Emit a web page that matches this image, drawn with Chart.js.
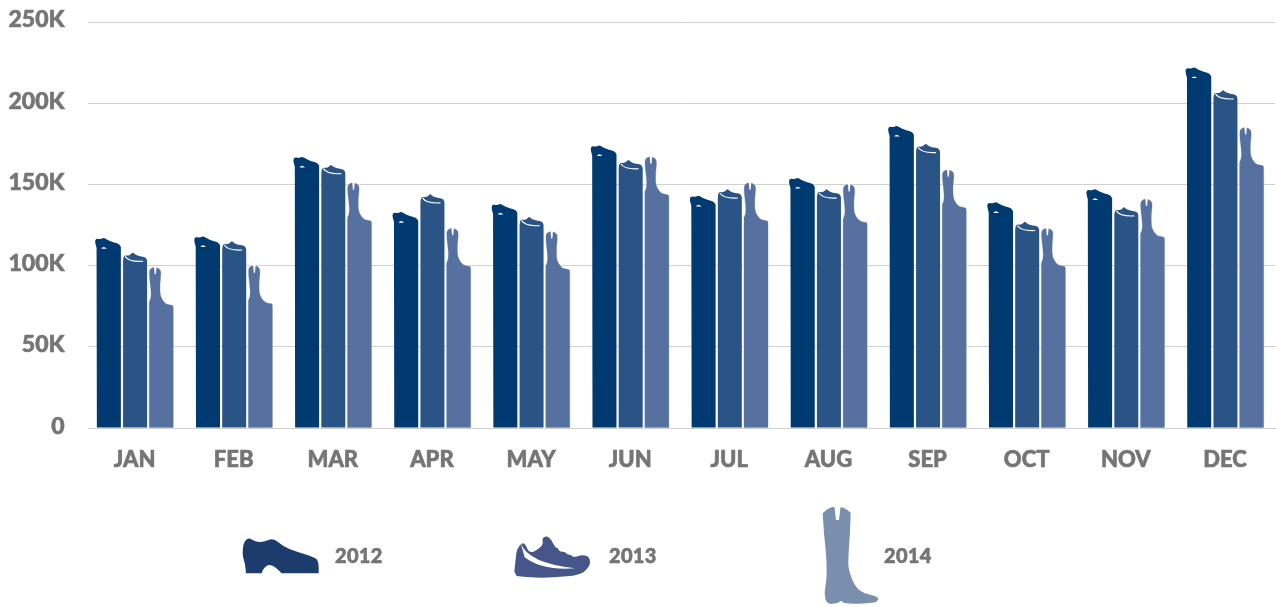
<!DOCTYPE html>
<html><head><meta charset="utf-8">
<style>html,body{margin:0;padding:0;background:#fff;overflow:hidden}#w{position:relative;width:1276px;height:607px}</style>
<script src="https://cdn.jsdelivr.net/npm/chart.js@4"></script>
</head><body><div id="w"><canvas id="c" width="1276" height="607"></canvas></div>
<script>
const months = ['JAN','FEB','MAR','APR','MAY','JUN','JUL','AUG','SEP','OCT','NOV','DEC'];
const years = ['2012','2013','2014'];
const sales2012 = [117000,118000,167000,133000,138000,174000,143000,154000,186000,139000,147000,222000];
const sales2013 = [108000,115000,162000,144000,130000,165000,147000,147000,175000,127000,136000,208000];
const sales2014 = [99000,100000,151000,123000,121000,167000,151000,150000,159000,123000,141000,185000];
const barColors = ['#003a70','#2a5485','#56719f'];
const legendColors = ['#1c3c6e','#46568a','#7a8fae'];
const inkColor = '#757575';
const FONT = '"Lato"';

// Rounded outline through midpoints; a doubled point stays a sharp corner.
function smoothOpen(ctx, pts){
  ctx.lineTo(pts[0][0], pts[0][1]);
  for(let i=1;i<pts.length-1;i++){
    ctx.quadraticCurveTo(pts[i][0],pts[i][1],(pts[i][0]+pts[i+1][0])/2,(pts[i][1]+pts[i+1][1])/2);
  }
  ctx.lineTo(pts[pts.length-1][0],pts[pts.length-1][1]);
}

// Silhouette tops, px relative to the bar's top-left corner
const tops = [
  [[-0.3,10],[-1.7,5],[-1.7,2],[0,0.5],[2,1],[4.6,1],[7,-0.4],[11.3,2.3],[16.3,4.3],[22.3,5.8],[24,9]],
  [[0,8],[0.3,4],[2,2.6],[5,3],[7.5,2],[9.7,-0.6],[12,2],[17,3.7],[22.7,4.3],[24,8]],
  [[0,35],[2,31],[1.7,22],[0.4,12],[0,4],[1.2,1.2],[5.3,-0.4],[10,1.2],[11.8,4],[11.2,12],[10.7,16],[10.7,25.7],[11.8,30],[14,34],[17,36.8],[21,37.7],[24,38],[24,42]]
];
Chart.BarElement.prototype.draw = function(ctx){
  const {x,y,base,width} = this.getProps(['x','y','base','width'], true);
  const i = barColors.indexOf(this.options.backgroundColor), l = x - width/2, s = width/24;
  ctx.save();
  ctx.fillStyle = this.options.backgroundColor;
  ctx.beginPath();
  ctx.moveTo(l, base);
  smoothOpen(ctx, tops[i].map(p => [l + p[0]*s, y + p[1]]));
  ctx.lineTo(l + width, base);
  ctx.closePath();
  if(i === 2){ ctx.strokeStyle = '#c9d1e3'; ctx.lineWidth = 1; ctx.stroke(); }
  ctx.fill();
  ctx.fillStyle = '#fff'; ctx.strokeStyle = '#fff';
  if(i === 0){
    ctx.beginPath(); ctx.moveTo(l+4.4,y+10.6); ctx.quadraticCurveTo(l+6.5,y+7.2,l+10,y+10.6); ctx.closePath(); ctx.fill();
  } else if(i === 1){
    ctx.lineWidth = 1.2; ctx.beginPath(); ctx.moveTo(l+2,y+3.7); ctx.quadraticCurveTo(l+6,y+9.5,l+20,y+8.7); ctx.stroke();
  } else {
    ctx.beginPath(); ctx.moveTo(l+4.7,y-1); ctx.lineTo(l+7.3,y-1); ctx.lineTo(l+6.6,y+7); ctx.lineTo(l+5.4,y+7); ctx.closePath(); ctx.fill();
  }
  ctx.restore();
};

const icons = [
  {ox:220, col:0, text:335, pts:[[78,220],[78,220],[75,190],[68,170],[68,145],[73,122],[88,113],[105,125],[130,127],[160,113],[190,140],[230,155],[280,170],[296,183],[296,220],[296,220],[185,220],[185,220],[165,200],[147,193],[130,205],[125,220],[125,220]]},
  {ox:220, col:1, text:609, pts:[[883,215],[888,170],[890,150],[905,128],[917,133],[925,155],[940,157],[970,135],[966,115],[980,107],[995,120],[1005,142],[1015,145],[1018,155],[1035,155],[1040,163],[1055,165],[1060,172],[1085,165],[1105,168],[1112,185],[1105,205],[1080,225],[1000,233],[930,233],[890,228]],
   swoosh:[[902,130],[925,190],[1065,205],[965,212],[914,172],[890,148]]},
  {ox:800, col:2, text:884, pts:[[68,40],[68,40],[85,25],[100,20],[130,20],[152,38],[152,38],[150,100],[145,170],[145,210],[165,260],[190,280],[230,288],[237,298],[225,310],[130,312],[126,300],[112,310],[80,313],[72,280],[80,240],[80,180],[72,100]],
   slot:[[103,18],[122,18],[117,60],[108,60]]}
];
const sx = (o,z) => o + z/3, sy = z => 500 + z/3;
const pictoLegend = {
  id:'pictoLegend',
  beforeDatasetsDraw(chart){
    const a = chart.ctx;
    a.save(); a.fillStyle='#fff'; a.fillRect(85,0,3,440); a.restore();
  },
  afterDraw(chart){
    const a = chart.ctx;
    icons.forEach((ic,k)=>{
      a.save();
      a.fillStyle = legendColors[ic.col];
      const P = ic.pts.map(p=>[sx(ic.ox,p[0]),sy(p[1])]);
      a.beginPath();
      a.moveTo(P[0][0],P[0][1]);
      smoothOpen(a,P);
      a.closePath(); a.fill();
      a.fillStyle = '#fff';
      if(ic.slot){
        a.beginPath(); ic.slot.forEach((p,i)=> i? a.lineTo(sx(ic.ox,p[0]),sy(p[1])) : a.moveTo(sx(ic.ox,p[0]),sy(p[1])));
        a.closePath(); a.fill();
      }
      if(ic.swoosh){
        const q = ic.swoosh, X=p=>sx(ic.ox,p[0]), Y=p=>sy(p[1]);
        a.beginPath(); a.moveTo(X(q[0]),Y(q[0]));
        a.quadraticCurveTo(X(q[1]),Y(q[1]),X(q[2]),Y(q[2]));
        a.quadraticCurveTo(X(q[3]),Y(q[3]),X(q[4]),Y(q[4]));
        a.lineTo(X(q[0]),Y(q[0]));
        a.closePath(); a.fill();
      }
      a.fillStyle = inkColor; a.font = `900 20px ${FONT}`; a.textAlign='left'; a.textBaseline='middle';
      a.letterSpacing = '0.3px';
      a.lineWidth = 0.6; a.strokeStyle = inkColor;
      a.strokeText(years[k], ic.text, 557);
      a.fillText(years[k], ic.text, 557);
      a.restore();
    });
  }
};
new Chart(document.getElementById('c'),{
  type:'bar',
  data:{labels:months,datasets:[
    {label:years[0],data:sales2012,backgroundColor:barColors[0]},
    {label:years[1],data:sales2013,backgroundColor:barColors[1]},
    {label:years[2],data:sales2014,backgroundColor:barColors[2]}
  ]},
  options:{
    responsive:false,animation:false,
    layout:{padding:{left:0,right:1,top:22,bottom:114.5}},
    categoryPercentage:0.793,barPercentage:0.916,
    plugins:{legend:{display:false},tooltip:{enabled:false}},
    scales:{
      x:{grid:{display:false,drawTicks:false},border:{color:'#d0d0d0',width:1},
         ticks:{font:{family:'Lato',size:22,weight:900},color:inkColor,textStrokeColor:inkColor,textStrokeWidth:0.6,padding:19,labelOffset:-0.5,maxRotation:0,autoSkip:false}},
      y:{min:0,max:250000,afterFit(s){s.width=85.5;s.paddingTop=0;s.paddingBottom=0;},
         grid:{color:'#d0d0d0',lineWidth:1,drawTicks:false},border:{display:false},
         ticks:{stepSize:50000,color:inkColor,textStrokeColor:inkColor,textStrokeWidth:0.6,padding:21,labelOffset:-2,font:{family:'Lato',size:23,weight:900},
           callback:v=>v===0?'0':(v/1000)+'K'}}
    }
  },
  plugins:[pictoLegend]
});
</script></body></html>
